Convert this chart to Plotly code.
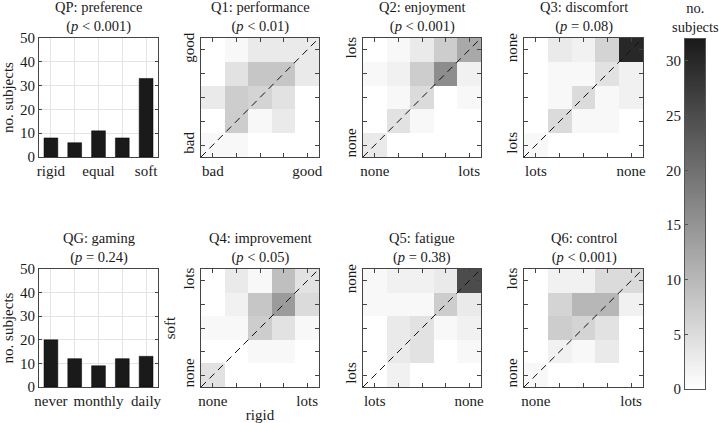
import numpy as np
import plotly.graph_objects as go

# ---------------- data ----------------
pref_labels = ["rigid", "", "equal", "", "soft"]
pref_values = [8, 6, 11, 8, 33]
game_labels = ["never", "", "monthly", "", "daily"]
game_values = [20, 12, 9, 12, 13]

# heatmap rows written top (row 5) to bottom (row 1)
q1_rows = [[0, 1, 3, 3, 3],
           [0, 4, 8, 8, 3],
           [3, 7, 6, 4, 0],
           [0, 7, 1, 3, 0],
           [1, 1, 0, 0, 0]]
q2_rows = [[0, 1, 3, 7, 12],
           [1, 2, 7, 16, 2],
           [0, 1, 5, 0, 1],
           [0, 4, 1, 0, 0],
           [3, 0, 0, 0, 0]]
q3_rows = [[0, 3, 2, 6, 30],
           [0, 1, 1, 4, 2],
           [0, 1, 5, 1, 2],
           [0, 5, 1, 1, 0],
           [1, 0, 0, 0, 0]]
q4_rows = [[0, 3, 1, 9, 4],
           [0, 2, 8, 14, 5],
           [1, 1, 7, 4, 1],
           [0, 0, 1, 1, 0],
           [4, 0, 0, 0, 0]]
q5_rows = [[1, 2, 2, 3, 25],
           [1, 1, 1, 7, 3],
           [0, 3, 4, 1, 2],
           [0, 3, 4, 0, 1],
           [0, 2, 0, 0, 0]]
q6_rows = [[0, 2, 2, 5, 5],
           [0, 6, 10, 10, 2],
           [0, 7, 6, 4, 0],
           [0, 2, 1, 3, 0],
           [1, 0, 0, 0, 0]]

titles = {
    1: "QP: preference<br>(<i>p</i> < 0.001)",
    2: "Q1: performance<br>(<i>p</i> < 0.01)",
    3: "Q2: enjoyment<br>(<i>p</i> < 0.001)",
    4: "Q3: discomfort<br>(<i>p</i> = 0.08)",
    5: "QG: gaming<br>(<i>p</i> = 0.24)",
    6: "Q4: improvement<br>(<i>p</i> < 0.05)",
    7: "Q5: fatigue<br>(<i>p</i> = 0.38)",
    8: "Q6: control<br>(<i>p</i> < 0.001)",
}
heat_specs = {
    2: (q1_rows, ["bad", "good"], ["bad", "good"]),
    3: (q2_rows, ["none", "lots"], ["none", "lots"]),
    4: (q3_rows, ["lots", "none"], ["lots", "none"]),
    6: (q4_rows, ["none", "lots"], ["none", "lots"]),
    7: (q5_rows, ["lots", "none"], ["lots", "none"]),
    8: (q6_rows, ["none", "lots"], ["none", "lots"]),
}
cbar_ticks = [0, 5, 10, 15, 20, 25, 30]
zmax = 32

# ---------------- layout geometry ----------------
W, H = 719, 423
FONT = "Liberation Serif"
TXT = "#1a1a1a"
FS = 15
TFS = 14.5
cols = [(39, 158), (201, 319), (363, 481), (524, 643)]
rows = [(38, 157), (269, 387)]
gray = [[0, "#ffffff"], [1, "#1a1a1a"]]


def xdom(c):
    return [c[0] / W, c[1] / W]


def ydom(r):
    return [1 - r[1] / H, 1 - r[0] / H]


def sfx(i):
    return "" if i == 1 else str(i)


fig = go.Figure()
layout = dict(
    template="none", autosize=False,
    width=W, height=H, margin=dict(l=0, r=0, t=0, b=0, pad=0),
    paper_bgcolor="white", plot_bgcolor="white",
    font=dict(family=FONT, size=FS, color=TXT),
    showlegend=False, annotations=[], shapes=[], hovermode=False,
)

cats = [1, 2, 3, 4, 5]
for i in range(1, 9):
    s = sfx(i)
    r = 0 if i <= 4 else 1
    c = (i - 1) % 4
    ax = dict(domain=xdom(cols[c]), anchor=f"y{s}", showline=True, mirror="ticks",
              linecolor="#444", linewidth=1, ticks="inside", ticklen=4,
              tickcolor="#444", zeroline=False, tickfont=dict(size=FS),
              range=[0.5, 5.5], tickvals=cats, fixedrange=True, automargin=False)
    ay = dict(domain=ydom(rows[r]), anchor=f"x{s}", showline=True, mirror="ticks",
              linecolor="#444", linewidth=1, ticks="inside", ticklen=4,
              tickcolor="#444", zeroline=False, tickfont=dict(size=FS), fixedrange=True,
              automargin=False)
    if i in (1, 5):
        labels = pref_labels if i == 1 else game_labels
        vals = pref_values if i == 1 else game_values
        fig.add_trace(go.Bar(x=cats, y=vals, width=0.58, marker=dict(color="#1a1a1a",
                             line=dict(color="#000", width=0.5)),
                             xaxis=f"x{s}", yaxis=f"y{s}", hoverinfo="skip"))
        ax.update(ticktext=labels, showgrid=True, gridcolor="#e3e3e3", ticklen=0)
        ay.update(range=[0, 50], tickvals=[0, 10, 20, 30, 40, 50], showgrid=True,
                  gridcolor="#e3e3e3", ticklen=3,
                  title=dict(text="no. subjects", font=dict(size=FS), standoff=5))
    else:
        rows_data, xl, yl = heat_specs[i]
        z = rows_data[::-1]
        fig.add_trace(go.Heatmap(z=z, x=cats, y=cats, colorscale=gray, zmin=0, zmax=zmax,
                                 showscale=False, xaxis=f"x{s}", yaxis=f"y{s}",
                                 hoverinfo="skip"))
        ax.update(ticktext=[xl[0], "", "", "", xl[1]], showgrid=False)
        ay.update(range=[0.5, 5.5], tickvals=cats, ticktext=[yl[0], "", "", "", yl[1]],
                  showgrid=False, tickangle=-90)
        layout["shapes"].append(dict(type="line", xref=f"x{s} domain", yref=f"y{s} domain",
                                     x0=0, y0=0, x1=1, y1=1,
                                     line=dict(color="#111", width=1, dash="7px,5px")))
        if i == 6:
            ax.update(title=dict(text="rigid", font=dict(size=FS), standoff=1))
            ay.update(title=dict(text="soft", font=dict(size=FS), standoff=1))
    layout[f"xaxis{s}"] = ax
    layout[f"yaxis{s}"] = ay
    layout["annotations"].append(dict(text=titles[i], xref=f"x{s} domain", yref=f"y{s} domain",
                                      x=0.5, y=1, xanchor="center", yanchor="bottom",
                                      yshift=1, showarrow=False, font=dict(size=TFS)))

# colour bar drawn as its own axes
levels = np.linspace(0, zmax, 257)
fig.add_trace(go.Heatmap(z=[[v] for v in levels], x=[0], y=levels, colorscale=gray,
                         zmin=0, zmax=zmax, showscale=False, xaxis="x9", yaxis="y9",
                         hoverinfo="skip"))
layout["xaxis9"] = dict(domain=xdom((685, 705)), anchor="y9", showline=True, mirror=True,
                        linecolor="#555", linewidth=1, showticklabels=False, ticks="",
                        showgrid=False, zeroline=False, range=[-0.5, 0.5], fixedrange=True,
                        automargin=False)
layout["yaxis9"] = dict(domain=ydom((39, 389)), anchor="x9", showline=True,
                        mirror=True, linecolor="#555", linewidth=1, ticks="inside",
                        ticklen=3, tickcolor="#555", tickvals=cbar_ticks, showgrid=False,
                        zeroline=False, range=[0, zmax], tickfont=dict(size=FS),
                        fixedrange=True, automargin=False)
layout["annotations"].append(dict(text="no.<br>subjects", xref="x9 domain", yref="y9 domain",
                                  x=0.5, y=1, xanchor="center", yanchor="bottom",
                                  yshift=2, showarrow=False, font=dict(size=TFS)))

fig.update_layout(**layout)
fig.write_html("out.html",
               config={"displayModeBar": False, "staticPlot": True},
               post_script="document.documentElement.style.margin='0';"
                           "document.body.style.margin='0';"
                           "document.body.style.overflow='hidden';")
